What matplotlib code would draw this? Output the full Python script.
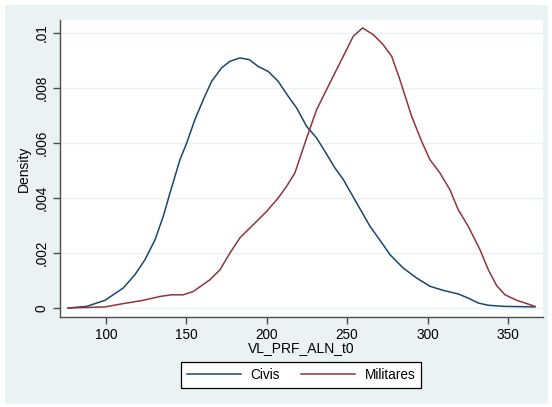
import matplotlib.pyplot as plt
from matplotlib.patches import Rectangle

# densidade estimada (kdensity) de VL_PRF_ALN_t0 por grupo
civis_x = [76.4, 88.0, 99.4, 110.8, 118.0, 124.3, 130.5, 135.6, 139.8, 146.0,
           150.2, 155.3, 160.5, 165.7, 171.9, 177.1, 183.3, 189.1, 194.7, 200.9,
           207.1, 213.4, 218.6, 224.8, 231.0, 236.2, 242.4, 247.6, 255.9, 264.2,
           272.4, 276.6, 284.9, 293.2, 301.5, 309.8, 319.1, 325.3, 331.6, 337.8,
           347.1, 366.8]
civis_y = [0.0, 0.00006, 0.00028, 0.00073, 0.00121, 0.00176, 0.00248, 0.00333, 0.00418, 0.00539,
           0.0060, 0.00685, 0.00757, 0.00824, 0.00873, 0.00897, 0.00909, 0.00903, 0.00878, 0.0086,
           0.00824, 0.00769, 0.00727, 0.0066, 0.00618, 0.00569, 0.00509, 0.00467, 0.00382, 0.00297,
           0.0023, 0.00194, 0.00145, 0.00109, 0.00079, 0.00064, 0.00051, 0.00036, 0.00018, 0.0001,
           0.00006, 0.00004]

mil_x = [76.5, 99.4, 110.8, 123.2, 133.6, 140.8, 148.0, 154.3, 164.7, 170.9,
         177.1, 183.3, 191.6, 199.9, 207.1, 212.3, 217.5, 224.8, 231.0, 237.2,
         242.4, 248.6, 253.8, 259.6, 266.2, 272.4, 277.7, 282.8, 290.1, 296.3,
         301.5, 307.7, 313.9, 319.1, 325.3, 332.6, 337.8, 343.0, 348.2, 355.5,
         366.8]
mil_y = [0.0, 0.00004, 0.00016, 0.00028, 0.00042, 0.00048, 0.00048, 0.0006, 0.00103, 0.00139,
         0.002, 0.00255, 0.00303, 0.00351, 0.004, 0.00442, 0.00491, 0.00618, 0.00721, 0.00794,
         0.00855, 0.00927, 0.00988, 0.01018, 0.00994, 0.00957, 0.00915, 0.0083, 0.00697, 0.00606,
         0.00539, 0.00491, 0.0043, 0.00357, 0.00297, 0.00212, 0.00139, 0.00081, 0.00048, 0.00028,
         0.00006]

xticks = [100, 150, 200, 250, 300, 350]
yticks = [0, 0.002, 0.004, 0.006, 0.008, 0.01]
ylabels = ['0', '.002', '.004', '.006', '.008', '.01']

plt.rcParams['font.family'] = ['Liberation Sans', 'DejaVu Sans']

fig = plt.figure(figsize=(5.52, 4.07), dpi=100, facecolor='white')
# fundo do graphregion (estilo s2color do Stata)
fig.patches.append(Rectangle((5 / 552, 3 / 407), 543 / 552, 399 / 407,
                             transform=fig.transFigure, facecolor='#eaf2f3',
                             edgecolor='none', zorder=-10))

ax = fig.add_axes([60 / 552, 1 - 317 / 407, 483 / 552, 297 / 407])
ax.set_facecolor('white')

ax.plot(civis_x, civis_y, color='#1a476f', lw=1.1, label='Civis')
ax.plot(mil_x, mil_y, color='#90353b', lw=1.1, label='Militares')

ax.set_xlim(71.4, 371.8)
ax.set_ylim(-0.000327, 0.01047)
ax.set_xticks(xticks)
ax.set_yticks(yticks)
ax.set_yticklabels(ylabels, rotation=90, va='center')
ax.grid(axis='y', color='#eaf2f3', lw=1.0)
ax.set_axisbelow(True)

for s in ['top', 'right']:
    ax.spines[s].set_visible(False)
for s in ['left', 'bottom']:
    ax.spines[s].set_color('#4d4d4d')
    ax.spines[s].set_linewidth(1.0)
ax.tick_params(colors='#4d4d4d', labelcolor='black', length=5, width=1.0,
               labelsize=9.8, pad=3)

ax.set_xlabel('VL_PRF_ALN_t0', fontsize=10, labelpad=-1)
ax.set_ylabel('Density', fontsize=10, labelpad=3)

leg = fig.legend(loc='center', bbox_to_anchor=(301 / 552, 1 - 375 / 407), ncol=2,
                 fancybox=False, edgecolor='black', framealpha=1, fontsize=9.8,
                 handlelength=4.0, handletextpad=0.7, columnspacing=1.5,
                 borderpad=0.45)
leg.get_frame().set_linewidth(0.9)

plt.savefig('out.png', dpi=100, facecolor=fig.get_facecolor())
plt.close()
